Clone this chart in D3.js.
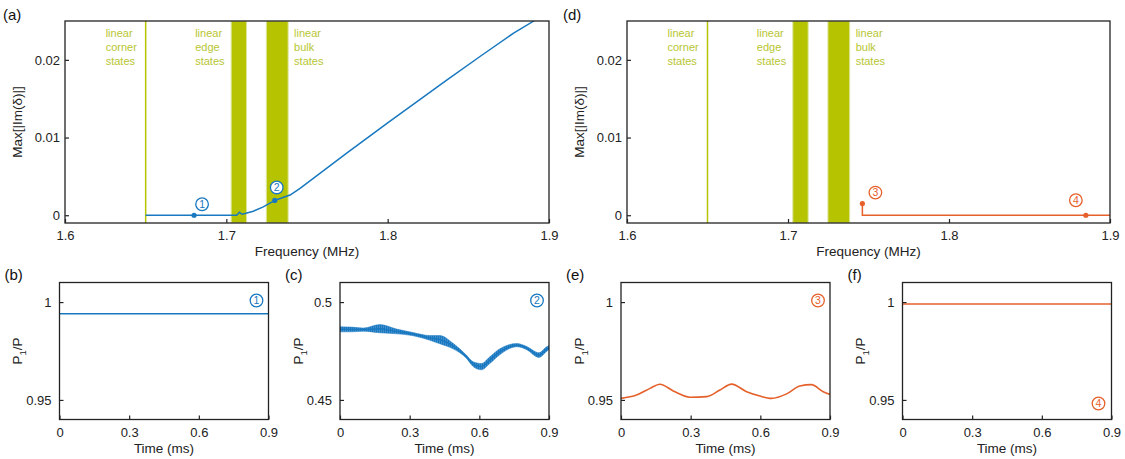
<!DOCTYPE html>
<html>
<head>
<meta charset="utf-8">
<script src="https://cdn.jsdelivr.net/npm/d3@7"></script>
<style>
	body { margin: 0; background: #fff; }
	svg { display: block; font-family: "Liberation Sans", Arial, sans-serif; }
</style>
</head>
<body>
<div id="chart"></div>
<script>
// ---- data ----
var freqTicks = [1.6, 1.7, 1.8, 1.9];
var imTicks = [0, 0.01, 0.02];
var timeTicks = [0, 0.3, 0.6, 0.9];

// linear spectrum regions (MHz)
var cornerFreq = 1.65;
var edgeBand = [1.703, 1.7125];
var bulkBand = [1.7248, 1.7383];

// (a) max growth rate, blue branch
var freqA = [1.65, 1.68, 1.7064, 1.7081, 1.7097, 1.7116, 1.7167, 1.7229, 1.73, 1.7333, 1.7395, 1.7457, 1.7746, 1.8, 1.8366, 1.857, 1.8778, 1.8906, 1.9];
var imA = [0, 0, 0, 0.00039, 0.00013, 0.00022, 0.00052, 0.00107, 0.0019, 0.00215, 0.0026, 0.00345, 0.008, 0.0119, 0.0174, 0.0204, 0.0234, 0.025, 0.0265];
var markersA = [[1.68, 0, "1"], [1.73, 0.0019, "2"]];

// (d) orange branch
var freqD = [1.7462, 1.7462, 1.9];
var imD = [0.0015, 0, 0];
var markersD = [[1.7462, 0.0015, "3"], [1.885, 0, "4"]];

// (b) point 1
var timeB = [0, 0.9];
var powB = [0.994, 0.994];
// (c) point 2: centre of the trace and half-width of its fast oscillation
var timeC = [0, 0.05, 0.1, 0.172, 0.244, 0.315, 0.387, 0.43, 0.487, 0.545, 0.573, 0.609, 0.645, 0.688, 0.762, 0.802, 0.857, 0.888, 0.9];
var powC = [0.4861, 0.486, 0.4859, 0.4864, 0.485, 0.4836, 0.4817, 0.4808, 0.4775, 0.472, 0.4683, 0.467, 0.4703, 0.4746, 0.478, 0.4766, 0.4729, 0.4758, 0.4768];
var ampC = [0.0013, 0.0012, 0.0008, 0.0021, 0.0012, 0.0008, 0.0012, 0.0021, 0.0014, 0.0008, 0.0012, 0.0016, 0.0017, 0.0015, 0.0008, 0.0008, 0.0012, 0.0012, 0.001];
// (e) point 3
var timeE = [0, 0.067, 0.125, 0.168, 0.225, 0.297, 0.369, 0.426, 0.476, 0.541, 0.598, 0.648, 0.713, 0.77, 0.82, 0.871, 0.9];
var powE = [0.9508, 0.9525, 0.9559, 0.958, 0.9546, 0.9514, 0.9517, 0.9551, 0.9581, 0.9542, 0.952, 0.9508, 0.9531, 0.9571, 0.9578, 0.9542, 0.9528];
// (f) point 4
var timeF = [0, 0.9];
var powF = [0.999, 0.999];

var blue = "#1878c0";
var orange = "#e5602a";
var olive = "#b5c300";
var oliveText = "#b8c632";
var ink = "#222";

var width = 1125, height = 459;
var svg = d3.select("#chart").append("svg").attr("width", width).attr("height", height);

var defs = svg.append("defs");
var pat = defs.append("pattern")
	.attr("id", "wiggle")
	.attr("patternUnits", "userSpaceOnUse")
	.attr("width", 2).attr("height", 10);
pat.append("rect").attr("width", 2).attr("height", 10).attr("fill", "#4c95d2");
pat.append("rect").attr("width", 1.2).attr("height", 10).attr("fill", blue);

function frame(box, xDomain, yDomain, xTicks, yTicks, yFmt, padY) {
	var x = d3.scaleLinear().domain(xDomain).range([box.l, box.r]);
	var y = d3.scaleLinear().domain(yDomain).range([box.b, box.t]);
	var g = svg.append("g");
	var clipId = "clip" + Math.round(box.l);
	defs.append("clipPath").attr("id", clipId)
		.append("rect").attr("x", box.l).attr("y", box.t)
		.attr("width", box.r - box.l).attr("height", box.b - box.t);
	var plot = g.append("g").attr("clip-path", "url(#" + clipId + ")");
	var axes = g.append("g");
	axes.append("g")
		.attr("transform", `translate(0, ${box.b})`)
		.call(d3.axisBottom(x).tickValues(xTicks).tickSize(-4).tickPadding(8)
			.tickFormat(function (d) { return d === 0 ? "0" : d3.format("")(+d.toFixed(2)); }));
	axes.append("g")
		.attr("transform", `translate(${box.l}, 0)`)
		.call(d3.axisLeft(y).tickValues(yTicks).tickSize(-4).tickPadding(padY).tickFormat(yFmt));
	axes.selectAll(".domain").remove();
	axes.selectAll(".tick line").attr("stroke", ink).attr("stroke-width", 1.2);
	axes.selectAll(".tick text").attr("fill", ink).style("font-size", "13px")
		.style("font-family", "'Liberation Sans', Arial, sans-serif");
	axes.append("rect")
		.attr("x", box.l).attr("y", box.t)
		.attr("width", box.r - box.l).attr("height", box.b - box.t)
		.attr("fill", "none").attr("stroke", ink).attr("stroke-width", 1.3);
	return { x: x, y: y, plot: plot, g: g };
}

function tag(x, y, text, color) {
	var t = svg.append("g").attr("transform", `translate(${x}, ${y})`);
	t.append("circle").attr("r", 6.3).attr("fill", "#fff").attr("stroke", color).attr("stroke-width", 1.3);
	t.append("text").attr("text-anchor", "middle").attr("dy", "0.37em")
		.attr("fill", color).style("font-size", "10.5px").text(text);
}

function panelLabel(x, y, text) {
	svg.append("text").attr("x", x).attr("y", y).attr("fill", "#111")
		.style("font-size", "15px").text(text);
}

function xTitle(cx, y, text) {
	svg.append("text").attr("x", cx).attr("y", y).attr("text-anchor", "middle")
		.attr("fill", ink).style("font-size", "13.5px").text(text);
}

function powTitle(cx, cy) {
	var t = svg.append("text").attr("transform", `translate(${cx}, ${cy}) rotate(-90)`)
		.attr("text-anchor", "middle").attr("dy", "0.35em").attr("fill", ink).style("font-size", "13.5px");
	t.append("tspan").text("P");
	t.append("tspan").attr("dy", 4).style("font-size", "9.5px").text("1");
	t.append("tspan").attr("dy", -4).text("/P");
}

var fmtIm = function (d) { return d === 0 ? "0" : d3.format(".2f")(d); };
var fmtPow = function (d) { return d === 1 ? "1" : d3.format("")(+d.toFixed(2)); };

// ---- top panels ----
function spectrumPanel(box, freq, im, markers, color, tagOffsets) {
	var p = frame(box, [1.6, 1.9], [-0.001, 0.025], freqTicks, imTicks, fmtIm, 5);
	var x = p.x, y = p.y;
	p.plot.append("line")
		.attr("x1", x(cornerFreq)).attr("x2", x(cornerFreq))
		.attr("y1", box.t).attr("y2", box.b)
		.attr("stroke", olive).attr("stroke-width", 1.5);
	[edgeBand, bulkBand].forEach(function (b) {
		p.plot.append("rect")
			.attr("x", x(b[0])).attr("y", box.t)
			.attr("width", x(b[1]) - x(b[0])).attr("height", box.b - box.t)
			.attr("fill", olive).attr("stroke", "#dde59a").attr("stroke-width", 1);
	});
	var notes = [
		[x(cornerFreq) - 40, ["linear", "corner", "states"]],
		[x(edgeBand[0]) - 36, ["linear", "edge", "states"]],
		[x(bulkBand[1]) + 6, ["linear", "bulk", "states"]]
	];
	notes.forEach(function (n) {
		n[1].forEach(function (s, i) {
			p.g.append("text").attr("x", n[0]).attr("y", box.t + 15.5 + i * 14)
				.attr("fill", oliveText).style("font-size", "11px").text(s);
		});
	});
	var line = d3.line().x(function (d) { return x(d[0]); }).y(function (d) { return y(d[1]); });
	var curve = freq.map(function (f, i) { return [f, im[i]]; });
	p.plot.append("path").datum(curve).attr("d", line)
		.attr("fill", "none").attr("stroke", color).attr("stroke-width", 1.5);
	markers.forEach(function (m, i) {
		p.plot.append("circle").attr("cx", x(m[0])).attr("cy", y(m[1])).attr("r", 2.6).attr("fill", color);
		tag(x(m[0]) + tagOffsets[i][0], y(m[1]) + tagOffsets[i][1], m[2], color);
	});
	xTitle((box.l + box.r) / 2, 256, "Frequency (MHz)");
	svg.append("text")
		.attr("transform", `translate(${box.l - 48}, ${(box.t + box.b) / 2}) rotate(-90)`)
		.attr("text-anchor", "middle").attr("dy", "0.35em").attr("fill", ink)
		.style("font-size", "13.5px").text("Max[|Im(δ)|]");
}

var boxA = { l: 65, r: 549, t: 21, b: 223 };
var boxD = { l: 627, r: 1110, t: 21, b: 223 };
spectrumPanel(boxA, freqA, imA, markersA, blue, [[8, -11], [2, -13]]);
spectrumPanel(boxD, freqD, imD, markersD, orange, [[13, -11], [-10, -15]]);
panelLabel(3, 20, "(a)");
panelLabel(563, 20, "(d)");

// ---- bottom panels ----
function timePanel(box, yDomain, yTicks, label) {
	var p = frame(box, [0, 0.9], yDomain, timeTicks, yTicks, fmtPow, 8);
	xTitle((box.l + box.r) / 2, 453, "Time (ms)");
	powTitle(box.l - 42, (box.t + box.b) / 2);
	panelLabel(box.l - 55, 280, label);
	return p;
}

function simpleLine(p, t, v, color) {
	var line = d3.line().x(function (d) { return p.x(d[0]); }).y(function (d) { return p.y(d[1]); });
	p.plot.append("path").datum(t.map(function (d, i) { return [d, v[i]]; })).attr("d", line)
		.attr("fill", "none").attr("stroke", color).attr("stroke-width", 1.5);
}

var boxB = { l: 59.5, r: 268.5, t: 282.5, b: 419.5 };
var boxC = { l: 340, r: 549, t: 282.5, b: 419.5 };
var boxE = { l: 621, r: 830, t: 282.5, b: 419.5 };
var boxF = { l: 902.5, r: 1111.5, t: 282.5, b: 419.5 };

var pB = timePanel(boxB, [0.94, 1.01], [0.95, 1], "(b)");
simpleLine(pB, timeB, powB, blue);
tag(boxB.r - 12, boxB.t + 18, "1", blue);

var pC = timePanel(boxC, [0.44, 0.51], [0.45, 0.5], "(c)");
var bandC = timeC.map(function (d, i) { return [d, powC[i] - ampC[i], powC[i] + ampC[i]]; });
pC.plot.append("path").datum(bandC)
	.attr("d", d3.area().curve(d3.curveMonotoneX)
		.x(function (d) { return pC.x(d[0]); })
		.y0(function (d) { return pC.y(d[1]); })
		.y1(function (d) { return pC.y(d[2]); }))
	.attr("fill", "url(#wiggle)").attr("stroke", blue).attr("stroke-width", 0.5);
pC.plot.append("path").datum(timeC.map(function (d, i) { return [d, powC[i]]; }))
	.attr("d", d3.line().curve(d3.curveMonotoneX)
		.x(function (d) { return pC.x(d[0]); }).y(function (d) { return pC.y(d[1]); }))
	.attr("fill", "none").attr("stroke", blue).attr("stroke-width", 1.4);
tag(boxC.r - 12, boxC.t + 18, "2", blue);

var pE = timePanel(boxE, [0.94, 1.01], [0.95, 1], "(e)");
var lineE = d3.line().curve(d3.curveMonotoneX)
	.x(function (d) { return pE.x(d[0]); }).y(function (d) { return pE.y(d[1]); });
pE.plot.append("path").datum(timeE.map(function (d, i) { return [d, powE[i]]; })).attr("d", lineE)
	.attr("fill", "none").attr("stroke", orange).attr("stroke-width", 1.6);
tag(boxE.r - 12, boxE.t + 18, "3", orange);

var pF = timePanel(boxF, [0.94, 1.01], [0.95, 1], "(f)");
simpleLine(pF, timeF, powF, orange);
tag(boxF.r - 13, boxF.b - 16, "4", orange);
</script>
</body>
</html>
